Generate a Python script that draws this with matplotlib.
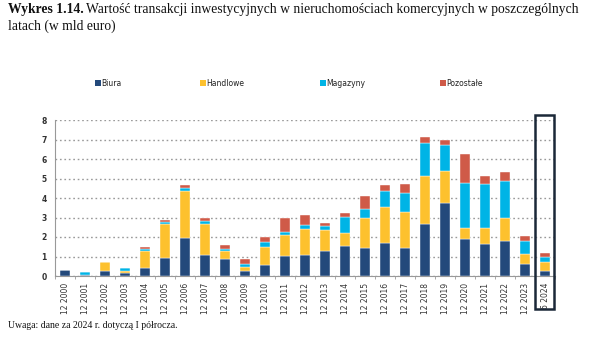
import matplotlib
matplotlib.use("Agg")
import matplotlib.pyplot as plt
from matplotlib.patches import Rectangle
import numpy as np

categories = ["12 2000", "12 2001", "12 2002", "12 2003", "12 2004", "12 2005", "12 2006",
              "12 2007", "12 2008", "12 2009", "12 2010", "12 2011", "12 2012", "12 2013",
              "12 2014", "12 2015", "12 2016", "12 2017", "12 2018", "12 2019", "12 2020",
              "12 2021", "12 2022", "12 2023", "6 2024"]
biura = [0.30, 0.04, 0.26, 0.14, 0.43, 0.92, 1.93, 1.06, 0.85, 0.26, 0.58, 1.03, 1.07, 1.28,
         1.56, 1.45, 1.68, 1.42, 2.65, 3.73, 1.91, 1.66, 1.78, 0.60, 0.27]
handlowe = [0.00, 0.00, 0.48, 0.12, 0.87, 1.73, 2.43, 1.59, 0.43, 0.22, 0.92, 1.07, 1.32, 1.08,
            0.66, 1.54, 1.88, 1.84, 2.48, 1.65, 0.53, 0.82, 1.19, 0.51, 0.45]
magazyny = [0.01, 0.15, 0.00, 0.15, 0.10, 0.12, 0.17, 0.15, 0.09, 0.14, 0.26, 0.17, 0.23, 0.19,
            0.82, 0.46, 0.82, 1.01, 1.67, 1.32, 2.33, 2.26, 1.88, 0.68, 0.27]
pozostale = [0.01, 0.00, 0.00, 0.02, 0.10, 0.10, 0.15, 0.17, 0.20, 0.23, 0.26, 0.72, 0.53, 0.15,
             0.17, 0.65, 0.27, 0.47, 0.31, 0.27, 1.49, 0.37, 0.48, 0.26, 0.17]

series = [("Biura", biura, "#23497b"), ("Handlowe", handlowe, "#fdc12e"),
          ("Magazyny", magazyny, "#00b4e6"), ("Pozostałe", pozostale, "#cf5a48")]

fig = plt.figure(figsize=(6.02, 3.40), dpi=100)
ax = fig.add_axes([55/602, 1-276/340, 500/602, 156/340])

x = np.arange(len(categories))
bottom = np.zeros(len(categories))
for name, vals, col in series:
    v = np.array(vals)
    ax.bar(x, v, width=0.5, bottom=bottom, color=col, edgecolor="white", linewidth=0.3, label=name, zorder=3)
    bottom += v

ax.set_xlim(-0.5, len(categories) - 0.5)
ax.set_ylim(0, 8)
ax.set_yticks(range(0, 9))
ax.set_yticklabels([str(i) for i in range(0, 9)], fontsize=5.5, fontweight="bold", color="#333333", family="DejaVu Sans")
ax.yaxis.grid(True, linestyle=(0, (1.2, 2)), color="#999999", linewidth=1.0, zorder=0)
ax.set_axisbelow(True)
for s in ["top", "right"]:
    ax.spines[s].set_visible(False)
ax.spines["left"].set_color("#999999")
ax.spines["bottom"].set_color("#999999")
ax.tick_params(axis="y", length=0, pad=6)
ax.set_xticks(x)
ax.set_xticks(np.arange(-0.5, len(categories), 1.0), minor=True)
ax.tick_params(axis="x", which="major", length=0, pad=5)
ax.tick_params(axis="x", which="minor", length=2, color="#999999")
ax.set_xticklabels(categories, rotation=90, fontsize=5.5, color="#333333")

# highlight box around last category
box = Rectangle((535/602, 1-309/340), 19/602, 194/340, transform=fig.transFigure,
                fill=False, edgecolor="#1b2838", linewidth=1.8, zorder=10)
fig.patches.append(box)

# legend
leg_x = [95, 200, 320, 440]
for (name, vals, col), lx in zip(series, leg_x):
    fig.patches.append(Rectangle((lx/602, 1-86/340), 6/602, 6/340, transform=fig.transFigure,
                                 facecolor=col, edgecolor="none"))
    fig.text((lx+6.5)/602, 1-83/340, name, fontsize=5.5, va="center", ha="left", color="#222222")

# title
r = fig.canvas.get_renderer()
t1 = fig.text(8/602, 1-10/340, "Wykres 1.14.", fontsize=9.8, fontweight="bold", family="Liberation Serif",
              va="center", ha="left", color="#111111")
bb = t1.get_window_extent(renderer=r)
fig.text((bb.x1 + 2)/602, 1-10/340,
         "Wartość transakcji inwestycyjnych w nieruchomościach komercyjnych w poszczególnych",
         fontsize=9.8, family="Liberation Serif", va="center", ha="left", color="#111111")
fig.text(8/602, 1-26/340, "latach (w mld euro)", fontsize=9.8, family="Liberation Serif",
         va="center", ha="left", color="#111111")
fig.text(8/602, 1-325/340, "Uwaga: dane za 2024 r. dotyczą I półrocza.", fontsize=7,
         family="Liberation Serif", va="center", ha="left", color="#111111")

fig.savefig("out.png", dpi=100)
